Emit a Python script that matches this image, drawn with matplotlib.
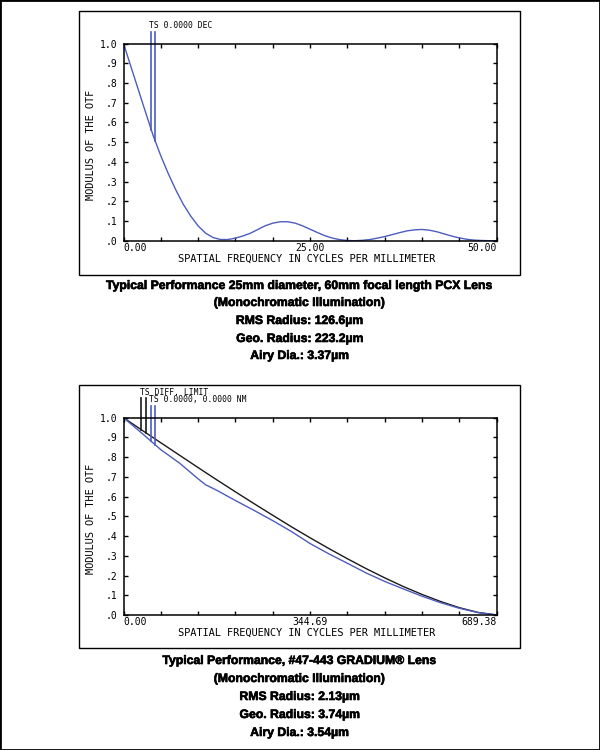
import matplotlib.pyplot as plt
from matplotlib.patches import Rectangle
import matplotlib.patheffects as pe
import numpy as np

# ---- data ----
freq_pcx = [0, 1, 2, 3, 4, 5, 6, 7, 8, 9, 10, 11, 12, 13, 14, 15, 16, 17, 18, 19, 20,
            21, 22, 23, 24, 25, 26, 27, 28, 29, 30, 31, 32, 33, 34, 35, 36, 37, 38, 39,
            40, 41, 42, 43, 44, 45, 46, 47, 48, 49, 50]
mtf_pcx = [1.0, 0.882, 0.764, 0.646, 0.53, 0.43, 0.34, 0.258, 0.185, 0.125, 0.075,
           0.038, 0.016, 0.006, 0.006, 0.013, 0.024, 0.038, 0.057, 0.076, 0.089,
           0.096, 0.096, 0.089, 0.075, 0.058, 0.041, 0.025, 0.013, 0.005, 0.001,
           0.0, 0.002, 0.006, 0.013, 0.021, 0.031, 0.041, 0.05, 0.055, 0.057,
           0.053, 0.045, 0.034, 0.023, 0.014, 0.007, 0.003, 0.001, 0.0, 0.0]
pcx_markers = [3.72, 4.26]

freq_grad = [0, 34.5, 68.9, 103.4, 137.9, 151.7, 172.3, 206.8, 241.3, 275.8, 310.2,
             344.7, 379.2, 413.6, 448.1, 482.6, 517.0, 551.5, 586.0, 620.4, 654.9, 689.38]
mtf_diff = [1.0, 0.936, 0.873, 0.81, 0.747, 0.722, 0.685, 0.624, 0.564, 0.505, 0.447,
            0.391, 0.337, 0.285, 0.235, 0.188, 0.144, 0.104, 0.068, 0.037, 0.013, 0.0]
mtf_grad = [1.0, 0.92, 0.838, 0.77, 0.69, 0.66, 0.632, 0.58, 0.53, 0.478, 0.423,
            0.362, 0.31, 0.262, 0.213, 0.17, 0.132, 0.095, 0.062, 0.034, 0.012, 0.0]
diff_markers = [33.0, 42.2]
grad_markers = [51.3, 58.7]

captions_top = ["Typical Performance 25mm diameter, 60mm focal length PCX Lens",
                "(Monochromatic Illumination)",
                "RMS Radius: 126.6µm",
                "Geo. Radius: 223.2µm",
                "Airy Dia.: 3.37µm"]
captions_bot = ["Typical Performance, #47-443 GRADIUM® Lens",
                "(Monochromatic Illumination)",
                "RMS Radius: 2.13µm",
                "Geo. Radius: 3.74µm",
                "Airy Dia.: 3.54µm"]

BLUE = "#4d5dbd"
BLACK = "#1a1a1a"
MONO = "DejaVu Sans Mono"
W, H = 600, 750

fig = plt.figure(figsize=(6, 7.5), dpi=100)
fig.patches.append(Rectangle((0, 0), 1, 1, transform=fig.transFigure,
                             fill=False, lw=2, ec="black"))


def px_axes(x0, y0, x1, y1):
    return fig.add_axes([x0 / W, 1 - y1 / H, (x1 - x0) / W, (y1 - y0) / H])


def box(x0, y0, x1, y1):
    fig.patches.append(Rectangle((x0 / W, 1 - y1 / H), (x1 - x0) / W, (y1 - y0) / H,
                                 transform=fig.transFigure, fill=False, lw=1, ec="black"))


def setup(ax, xmax, xlabels):
    ax.set_xlim(0, xmax)
    ax.set_ylim(0, 1)
    xt = np.linspace(0, xmax, 11)
    labs = [""] * 11
    labs[0], labs[5], labs[10] = xlabels
    ax.set_xticks(xt)
    ax.set_xticklabels(labs, fontfamily=MONO, fontsize=7)
    tl = ax.get_xticklabels()
    tl[0].set_ha("left")
    tl[10].set_ha("right")
    ax.set_yticks(np.arange(0, 1.01, 0.1))
    ax.set_yticklabels([".0", ".1", ".2", ".3", ".4", ".5", ".6", ".7", ".8", ".9", "1.0"],
                       fontfamily=MONO, fontsize=7)
    ax.tick_params(direction="in", length=3, width=1, top=True, right=True)
    ax.tick_params(axis="x", pad=1.5)
    ax.tick_params(axis="y", pad=4.5)
    for s in ax.spines.values():
        s.set_linewidth(1.1)
    ax.text(0.4916, -0.09, "SPATIAL FREQUENCY IN CYCLES PER MILLIMETER",
            transform=ax.transAxes, ha="center", va="center", fontfamily=MONO, fontsize=7.4)
    ax.text(-0.088, 0.485, "MODULUS OF THE OTF", transform=ax.transAxes, rotation=90,
            ha="center", va="center", fontfamily=MONO, fontsize=7.4)


def markers(ax, xs, fx, fy, top, color):
    for x in xs:
        ax.plot([x, x], [np.interp(x, fx, fy), top], color=color, lw=1.2, clip_on=False)


# ---- top panel ----
box(79, 11, 520, 275)
ax1 = px_axes(123.5, 43.5, 496.8, 240.7)
ax1.plot(freq_pcx, mtf_pcx, color=BLUE, lw=1.0)
setup(ax1, 50, ["0.00", "25.00", "50.00"])
markers(ax1, pcx_markers, freq_pcx, mtf_pcx, 1.056, BLUE)
ax1.text(3.46, 1.089, "TS 0.0000 DEC", fontfamily=MONO, fontsize=5.8,
         ha="left", va="center", clip_on=False)

# ---- bottom panel ----
box(79, 385, 520, 648)
ax2 = px_axes(123.5, 417.7, 496.8, 615)
ax2.plot(freq_grad, mtf_diff, color=BLACK, lw=1.0)
ax2.plot(freq_grad, mtf_grad, color=BLUE, lw=1.0)
setup(ax2, 689.38, ["0.00", "344.69", "689.38"])
markers(ax2, diff_markers, freq_grad, mtf_diff, 1.098, BLACK)
markers(ax2, grad_markers, freq_grad, mtf_grad, 1.059, BLUE)
ax2.text(30.5, 1.13, "TS DIFF. LIMIT", fontfamily=MONO, fontsize=5.8,
         ha="left", va="center", clip_on=False)
ax2.text(47.6, 1.09, "TS 0.0000, 0.0000 NM", fontfamily=MONO, fontsize=5.8,
         ha="left", va="center", clip_on=False)

# ---- captions ----
heavy = [pe.withStroke(linewidth=0.45, foreground="black")]
for ys, caps in (([286, 303, 321, 339, 356], captions_top),
                 ([661, 679, 697, 715, 733], captions_bot)):
    for y, c in zip(ys, caps):
        fig.text(300 / W, 1 - y / H, c, ha="center", va="center",
                 fontfamily="Liberation Sans", fontweight="bold", fontsize=8.8,
                 path_effects=heavy)

fig.savefig("out.png", dpi=100)
